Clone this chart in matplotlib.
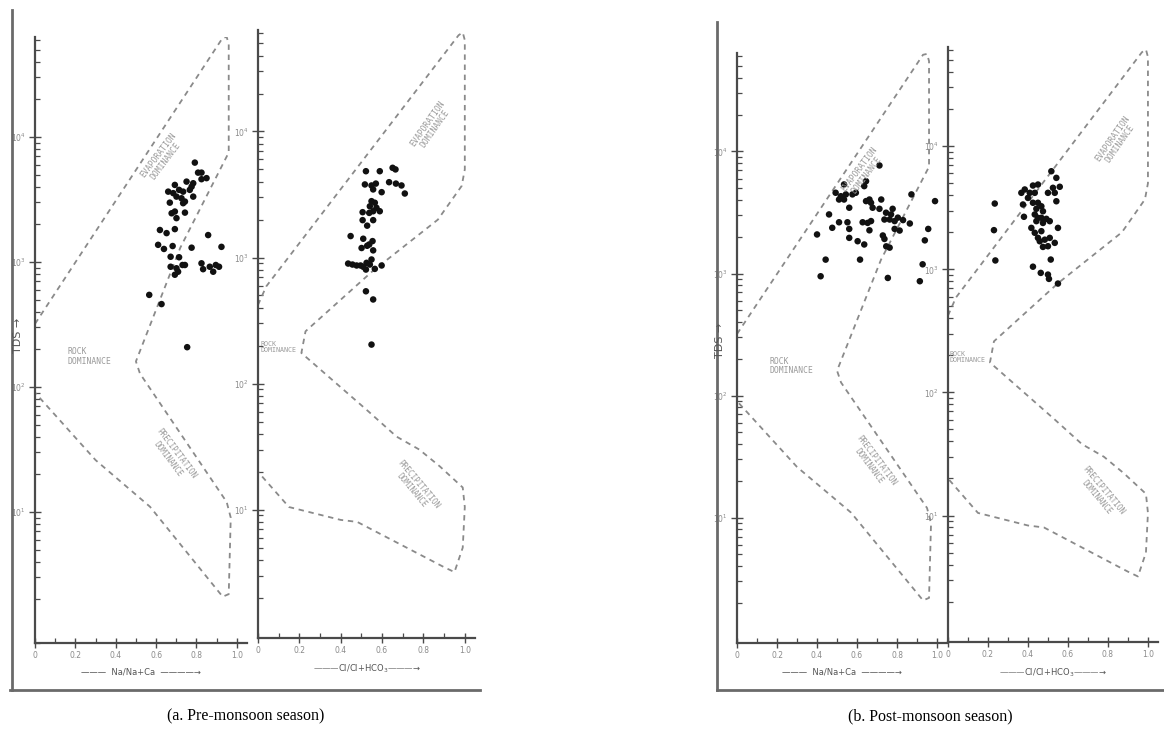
import matplotlib
matplotlib.use("Agg")
import matplotlib.pyplot as plt
from matplotlib.lines import Line2D
from matplotlib.ticker import LogLocator, NullFormatter, FixedLocator

# Gibbs boomerang envelopes (ratio, TDS)
na_env_x = [0.0, 0.93, 0.95, 0.96, 0.96, 0.72, 0.50, 0.52, 0.95, 0.97, 0.96, 0.93, 0.57, 0.30, 0.0]
na_env_y = [320, 62000, 63000, 55000, 7500, 1300, 160, 128, 12, 9, 2.2, 2.1, 11, 26, 90]
cl_env_x = [0.0, 0.04, 0.97, 0.99, 1.0, 1.0, 0.985, 0.87, 0.55, 0.23, 0.21, 0.535, 0.67, 0.78,
            0.88, 0.99, 1.0, 0.99, 0.95, 0.90, 0.48, 0.40, 0.15, 0.0]
cl_env_y = [420, 590, 58000, 61000, 53000, 5000, 3700, 2000, 770, 260, 175, 60, 38, 30,
            22, 15, 10.5, 5, 3.2, 3.5, 8, 8.3, 10.5, 20]

# Pre-monsoon samples
pre_na = [0.792, 0.808, 0.825, 0.825, 0.850, 0.693, 0.751, 0.784, 0.660, 0.685, 0.714, 0.734,
          0.767, 0.776, 0.701, 0.726, 0.743, 0.784, 0.668, 0.734, 0.677, 0.693, 0.701, 0.743,
          0.619, 0.652, 0.693, 0.858, 0.610, 0.639, 0.682, 0.776, 0.924, 0.672, 0.714, 0.672,
          0.701, 0.731, 0.743, 0.693, 0.709, 0.825, 0.833, 0.866, 0.883, 0.896, 0.912, 0.566,
          0.627, 0.754]
pre_na_tds = [6230, 5180, 5180, 4590, 4680, 4130, 4390, 4260, 3650, 3550, 3770, 3650,
              3770, 4000, 3330, 3230, 3040, 3330, 2980, 2950, 2450, 2530, 2240, 2480,
              1800, 1700, 1830, 1640, 1370, 1270, 1340, 1300, 1320, 1100, 1090, 915,
              890, 945, 945, 790, 835, 975, 875, 915, 835, 945, 915, 545,
              460, 208]
pre_cl = [0.522, 0.589, 0.651, 0.665, 0.517, 0.549, 0.570, 0.557, 0.598, 0.634, 0.667, 0.694,
          0.710, 0.549, 0.565, 0.541, 0.573, 0.557, 0.589, 0.506, 0.538, 0.506, 0.557, 0.528,
          0.448, 0.509, 0.554, 0.528, 0.501, 0.557, 0.538, 0.436, 0.457, 0.477, 0.496, 0.509,
          0.525, 0.549, 0.541, 0.522, 0.565, 0.598, 0.522, 0.557, 0.549]
pre_cl_tds = [4840, 4840, 5150, 5000, 3800, 3730, 3860, 3470, 3300, 3960, 3860, 3730,
              3220, 2800, 2720, 2550, 2480, 2330, 2330, 2290, 2260, 1980, 1980, 1790,
              1480, 1410, 1350, 1240, 1190, 1140, 1270, 896, 880, 865, 865, 845,
              908, 965, 880, 803, 813, 865, 540, 465, 204]

# Post-monsoon samples
post_na = [0.712, 0.535, 0.645, 0.636, 0.493, 0.519, 0.544, 0.577, 0.594, 0.510, 0.535, 0.645,
           0.662, 0.670, 0.721, 0.561, 0.678, 0.712, 0.872, 0.990, 0.460, 0.745, 0.778, 0.770,
           0.804, 0.830, 0.864, 0.763, 0.737, 0.788, 0.510, 0.552, 0.628, 0.653, 0.670, 0.662,
           0.561, 0.476, 0.788, 0.813, 0.956, 0.400, 0.561, 0.603, 0.636, 0.729, 0.737, 0.746,
           0.763, 0.939, 0.443, 0.615, 0.928, 0.418, 0.754, 0.914]
post_na_tds = [7680, 5370, 5710, 5200, 4590, 4300, 4450, 4450, 4590, 4040, 4040, 3920,
               4040, 3800, 4040, 3460, 3460, 3390, 4450, 3920, 3050, 3150, 3390, 3050,
               2870, 2740, 2570, 2770, 2770, 2690, 2630, 2630, 2630, 2600, 2690, 2260,
               2320, 2370, 2320, 2250, 2320, 2090, 1960, 1840, 1730, 2050, 1920, 1670,
               1630, 1870, 1300, 1300, 1190, 950, 920, 865]
post_cl = [0.517, 0.542, 0.425, 0.450, 0.525, 0.559, 0.384, 0.367, 0.409, 0.400, 0.434, 0.500,
           0.534, 0.542, 0.234, 0.375, 0.425, 0.450, 0.467, 0.442, 0.475, 0.380, 0.434, 0.450,
           0.467, 0.492, 0.509, 0.442, 0.475, 0.550, 0.230, 0.417, 0.434, 0.467, 0.450, 0.459,
           0.484, 0.509, 0.475, 0.500, 0.534, 0.237, 0.514, 0.425, 0.464, 0.500, 0.505, 0.550]
post_cl_tds = [6260, 5530, 4790, 4880, 4590, 4680, 4450, 4180, 4180, 3800, 4180, 4180,
               4180, 3570, 3420, 3360, 3470, 3470, 3250, 3100, 2960, 2670, 2790, 2620,
               2620, 2570, 2460, 2460, 2380, 2170, 2080, 2170, 1980, 2040, 1800, 1690,
               1740, 1800, 1520, 1540, 1640, 1180, 1200, 1050, 935, 906, 836, 766]

x_ticks = [0, 0.2, 0.4, 0.6, 0.8, 1.0]
x_tick_labels = ["0", "0.2", "0.4", "0.6", "0.8", "1.0"]

line_col = "#4a4a4a"
dash_col = "#8a8a8a"
label_col = "#8a8a8a"
mono = "DejaVu Sans Mono"

fig = plt.figure(figsize=(11.64, 7.31), dpi=100)


def region_text(ax, x, y, s, size, rot=0, ha="center"):
    ax.text(x, y, s, rotation=rot, fontsize=size, family=mono, color="#9a9a9a",
            ha=ha, va="center", rotation_mode="anchor", linespacing=1.05)


def gibbs_panel(rect, ylim, env_x, env_y, xs, ys, kind):
    ax = fig.add_axes(rect)
    ax.set_yscale("log")
    ax.set_xlim(0, 1.05)
    ax.set_ylim(*ylim)
    for side in ["top", "right"]:
        ax.spines[side].set_visible(False)
    for side in ["left", "bottom"]:
        ax.spines[side].set_color(line_col)
        ax.spines[side].set_linewidth(1.6)

    # envelope
    ax.plot(env_x, env_y, color=dash_col, lw=1.3, dashes=(3, 2.6), zorder=2)
    # samples
    ax.scatter(xs, ys, s=22, color="#111111", edgecolors="none", zorder=3)

    # ticks
    ax.set_xticks(x_ticks)
    ax.set_xticklabels(x_tick_labels)
    ax.xaxis.set_minor_locator(FixedLocator([0.1, 0.3, 0.5, 0.7, 0.9]))
    ax.yaxis.set_major_locator(FixedLocator([10, 100, 1000, 10000]))
    ax.yaxis.set_minor_locator(LogLocator(base=10, subs=range(2, 10)))
    ax.yaxis.set_minor_formatter(NullFormatter())
    ax.tick_params(axis="both", which="major", direction="inout", length=7, width=1.0,
                   color=line_col, labelsize=5.5, labelcolor=label_col, pad=2)
    ax.tick_params(axis="both", which="minor", direction="in", length=3.5, width=0.9,
                   color=line_col)
    ax.tick_params(axis="y", which="major", direction="inout", length=9)

    # region names
    if kind == "na":
        region_text(ax, 0.63, 6800, "EVAPORATION\nDOMINANCE", 5.8, rot=53)
        region_text(ax, 0.16, 175, "ROCK\nDOMINANCE", 5.8, ha="left")
        region_text(ax, 0.68, 28, "PRECIPITATION\nDOMINANCE", 5.6, rot=-53)
        xlabel = "\u2014\u2014\u2014  Na/Na+Ca  \u2014\u2014\u2014\u2014\u2192"
    else:
        region_text(ax, 0.84, 11000, "EVAPORATION\nDOMINANCE", 5.8, rot=55)
        region_text(ax, 0.01, 195, "ROCK\nDOMINANCE", 4.8, ha="left")
        region_text(ax, 0.76, 15, "PRECIPITATION\nDOMINANCE", 5.6, rot=-50)
        xlabel = "\u2014\u2014\u2014Cl/Cl+HCO$_3$\u2014\u2014\u2014\u2192"
    ax.set_xlabel(xlabel, fontsize=6, color="#555555", labelpad=6)
    return ax


# 1. Pre-monsoon pair
gibbs_panel([0.0301, 0.1204, 0.182, 0.829], (0.895, 63000),
            na_env_x, na_env_y, pre_na, pre_na_tds, "na")
gibbs_panel([0.2216, 0.1272, 0.1866, 0.832], (0.96, 64000),
            cl_env_x, cl_env_y, pre_cl, pre_cl_tds, "cl")

# 2. Post-monsoon pair
gibbs_panel([0.6332, 0.1204, 0.1804, 0.807], (0.94, 64000),
            na_env_x, na_env_y, post_na, post_na_tds, "na")
gibbs_panel([0.8144, 0.1218, 0.1804, 0.814], (0.94, 64000),
            cl_env_x, cl_env_y, post_cl, post_cl_tds, "cl")

# 3. TDS labels and scan frames
fig.text(18 / 1164, 1 - 335 / 731, "TDS \u2192", rotation=90, fontsize=8, color="#555555",
         ha="center", va="center")
fig.text(720 / 1164, 1 - 340 / 731, "TDS \u2192", rotation=90, fontsize=8, color="#555555",
         ha="center", va="center")

frame_col = "#6a6a6a"
fig.add_artist(Line2D([12 / 1164, 12 / 1164], [1 - 10 / 731, 1 - 690 / 731],
                      color=frame_col, lw=2.0))
fig.add_artist(Line2D([10 / 1164, 480 / 1164], [1 - 690 / 731, 1 - 690 / 731],
                      color=frame_col, lw=2.0))
fig.add_artist(Line2D([717 / 1164, 717 / 1164], [1 - 22 / 731, 1 - 690 / 731],
                      color=frame_col, lw=2.0))
fig.add_artist(Line2D([717 / 1164, 1164 / 1164], [1 - 690 / 731, 1 - 690 / 731],
                      color=frame_col, lw=2.0))

# 4. Captions
fig.text(246 / 1164, 1 - 716 / 731, "(a. Pre-monsoon season)", fontsize=11.5,
         family="Liberation Serif", ha="center", va="center")
fig.text(930 / 1164, 1 - 716 / 731, "(b. Post-monsoon season)", fontsize=11.5,
         family="Liberation Serif", ha="center", va="center")

fig.savefig("out.png", dpi=100)
